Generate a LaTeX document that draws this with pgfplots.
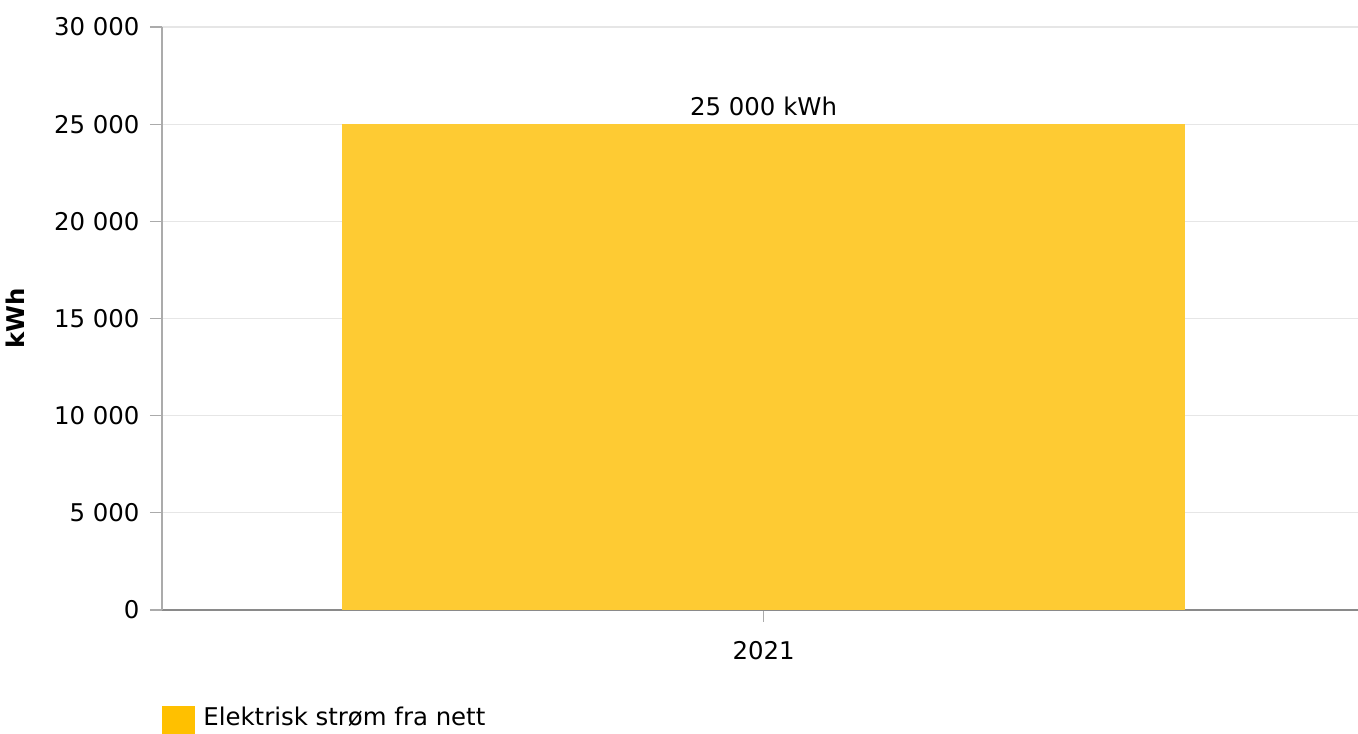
\documentclass[border=0pt]{standalone}
\usepackage{fontspec}
\setmainfont{DejaVu Sans}
\usepackage{pgfplots}
\pgfplotsset{compat=1.18}
\definecolor{barc}{HTML}{FECB33}
\definecolor{legc}{HTML}{FFC000}
\definecolor{gridc}{HTML}{E6E6E6}
\definecolor{yaxc}{HTML}{ABABAB}
\definecolor{xaxc}{HTML}{8A8A8A}
\begin{document}
\fontsize{12.2}{14}\selectfont
\begin{tikzpicture}
\begin{axis}[
  name=ax,
  scale only axis, width=598pt, height=291.5pt,
  xmin=-0.503, xmax=0.497, ymin=0, ymax=30000,
  scaled y ticks=false,
  axis x line*=bottom, axis y line*=left,
  axis line style={-},
  x axis line style={xaxc, line width=1pt},
  y axis line style={yaxc, line width=0.6pt},
  tick align=outside,
  major tick length=6pt,
  xtick={0}, xticklabels={2021},
  x tick style={yaxc, line width=0.6pt},
  xticklabel style={yshift=-5.5pt, font=\fontsize{12.2}{14}\selectfont},
  ytick={0,5000,10000,15000,20000,25000,30000},
  yticklabels={0,5 000,10 000,15 000,20 000,25 000,30 000},
  y tick style={yaxc, line width=0.6pt},
  yticklabel style={xshift=-1pt, font=\fontsize{12.2}{14}\selectfont},
  ymajorgrids, grid style={gridc, line width=0.6pt},
  ylabel={\textbf{kWh}},
  ylabel style={at={(axis description cs:-0.1079,0.5)}, anchor=south, font=\fontsize{12.2}{14}\selectfont},
  ybar, bar width=0.705,
  nodes near coords={25 000 kWh},
  nodes near coords style={font=\fontsize{12.2}{14}\selectfont, black, yshift=0pt},
  legend style={at={(axis description cs:0,0)}, anchor=north west, yshift=-48pt,
    draw=none, fill=none, inner sep=0pt, font=\fontsize{12.2}{14}\selectfont,
    nodes={inner sep=0pt}, column sep=4pt},
  legend image code/.code={\fill[legc] (0pt,-8pt) rectangle (16.5pt,6pt);},
  clip=false,
]
\addplot[fill=barc, draw=none] coordinates {(0,25000)};
\addlegendentry{Elektrisk strøm fra nett}
\end{axis}
\pgfresetboundingbox
\path ([xshift=-81pt, yshift=-62pt]ax.south west) rectangle ([yshift=13.5pt]ax.north east);
\end{tikzpicture}
\end{document}
